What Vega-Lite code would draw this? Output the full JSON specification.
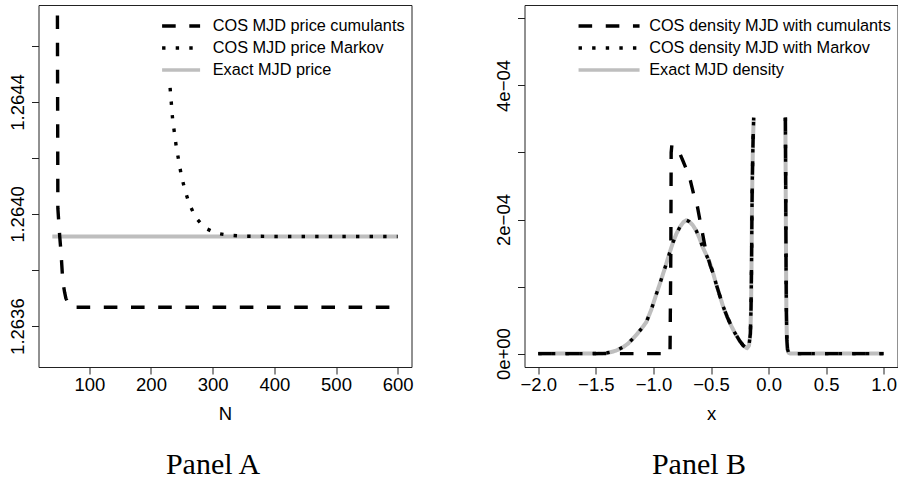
{
  "$schema": "https://vega.github.io/schema/vega-lite/v6.json",
  "background": "white",
  "autosize": {"type": "pad"},
  "padding": {"left": 6.5, "top": 4, "right": 0, "bottom": 0},
  "spacing": 113,
  "bounds": "flush",
  "resolve": {"scale": {"color": "independent", "strokeDash": "independent"}, "legend": {"color": "independent", "strokeDash": "independent"}},
  "config": {
    "view": {"stroke": "#222", "strokeWidth": 1},
    "axis": {"labelFont": "Liberation Sans", "labelFontSize": 18.5, "labelColor": "black", "titleFont": "Liberation Sans", "titleFontSize": 18.5, "titleFontWeight": "normal", "titleColor": "black", "tickColor": "#222", "tickSize": 7, "domain": false, "grid": false, "labelOverlap": false, "labelFlush": false},
    "axisX": {"labelPadding": 1, "labelBaseline": "top", "titleY": 52, "titleBaseline": "alphabetic"},
    "axisY": {"labelAngle": 270, "labelAlign": "center", "labelBaseline": "alphabetic", "labelPadding": 8.5},
    "legend": {"title": null, "orient": "none", "symbolType": "M-10,0H10", "symbolStrokeWidth": 3.5, "labelFont": "Liberation Sans", "labelFontSize": 16.3, "labelColor": "black", "padding": 0, "labelLimit": 400, "rowPadding": 5},
    "title": {"font": "Liberation Serif", "fontSize": 30, "fontWeight": "normal", "color": "black", "orient": "bottom", "anchor": "middle", "dx": -12, "offset": 27},
    "line": {"strokeCap": "butt", "strokeJoin": "round"}
  },
  "datasets": {
    "panelA": [
      {"N": 40, "price": 1.26392, "series": "Exact MJD price"},
      {"N": 600, "price": 1.26392, "series": "Exact MJD price"},
      {"N": 48, "price": 1.2650, "series": "COS MJD price cumulants"},
      {"N": 49, "price": 1.26402, "series": "COS MJD price cumulants"},
      {"N": 52, "price": 1.26392, "series": "COS MJD price cumulants"},
      {"N": 54, "price": 1.263867, "series": "COS MJD price cumulants"},
      {"N": 57, "price": 1.26376, "series": "COS MJD price cumulants"},
      {"N": 60, "price": 1.26372, "series": "COS MJD price cumulants"},
      {"N": 62, "price": 1.263699, "series": "COS MJD price cumulants"},
      {"N": 66, "price": 1.26368, "series": "COS MJD price cumulants"},
      {"N": 70, "price": 1.263668, "series": "COS MJD price cumulants"},
      {"N": 75, "price": 1.263667, "series": "COS MJD price cumulants"},
      {"N": 100, "price": 1.263667, "series": "COS MJD price cumulants"},
      {"N": 200, "price": 1.263667, "series": "COS MJD price cumulants"},
      {"N": 300, "price": 1.263667, "series": "COS MJD price cumulants"},
      {"N": 400, "price": 1.263667, "series": "COS MJD price cumulants"},
      {"N": 500, "price": 1.263667, "series": "COS MJD price cumulants"},
      {"N": 600, "price": 1.263667, "series": "COS MJD price cumulants"},
      {"N": 231, "price": 1.26445, "series": "COS MJD price Markov"},
      {"N": 235, "price": 1.26434, "series": "COS MJD price Markov"},
      {"N": 241, "price": 1.26424, "series": "COS MJD price Markov"},
      {"N": 249, "price": 1.26414, "series": "COS MJD price Markov"},
      {"N": 255, "price": 1.264085, "series": "COS MJD price Markov"},
      {"N": 262, "price": 1.264037, "series": "COS MJD price Markov"},
      {"N": 272, "price": 1.263989, "series": "COS MJD price Markov"},
      {"N": 287, "price": 1.263951, "series": "COS MJD price Markov"},
      {"N": 300, "price": 1.263937, "series": "COS MJD price Markov"},
      {"N": 310, "price": 1.26393, "series": "COS MJD price Markov"},
      {"N": 328, "price": 1.263924, "series": "COS MJD price Markov"},
      {"N": 350, "price": 1.263921, "series": "COS MJD price Markov"},
      {"N": 400, "price": 1.26392, "series": "COS MJD price Markov"},
      {"N": 500, "price": 1.26392, "series": "COS MJD price Markov"},
      {"N": 600, "price": 1.26392, "series": "COS MJD price Markov"}
    ],
    "panelB": [
      {"x": -2.0, "density": 0, "part": 1, "series": "Exact MJD density"},
      {"x": -1.8, "density": 0, "part": 1, "series": "Exact MJD density"},
      {"x": -1.6, "density": 0, "part": 1, "series": "Exact MJD density"},
      {"x": -1.5, "density": 0.0000002, "part": 1, "series": "Exact MJD density"},
      {"x": -1.45, "density": 0.0000005, "part": 1, "series": "Exact MJD density"},
      {"x": -1.40, "density": 0.0000012, "part": 1, "series": "Exact MJD density"},
      {"x": -1.35, "density": 0.000003, "part": 1, "series": "Exact MJD density"},
      {"x": -1.31, "density": 0.0000055, "part": 1, "series": "Exact MJD density"},
      {"x": -1.26, "density": 0.00001, "part": 1, "series": "Exact MJD density"},
      {"x": -1.22, "density": 0.000015, "part": 1, "series": "Exact MJD density"},
      {"x": -1.18, "density": 0.000022, "part": 1, "series": "Exact MJD density"},
      {"x": -1.143, "density": 0.000029, "part": 1, "series": "Exact MJD density"},
      {"x": -1.10, "density": 0.000038, "part": 1, "series": "Exact MJD density"},
      {"x": -1.062, "density": 0.000047, "part": 1, "series": "Exact MJD density"},
      {"x": -1.02, "density": 0.000065, "part": 1, "series": "Exact MJD density"},
      {"x": -0.975, "density": 0.0000885, "part": 1, "series": "Exact MJD density"},
      {"x": -0.935, "density": 0.000109, "part": 1, "series": "Exact MJD density"},
      {"x": -0.894, "density": 0.000131, "part": 1, "series": "Exact MJD density"},
      {"x": -0.86, "density": 0.00015, "part": 1, "series": "Exact MJD density"},
      {"x": -0.83, "density": 0.000166, "part": 1, "series": "Exact MJD density"},
      {"x": -0.80, "density": 0.000179, "part": 1, "series": "Exact MJD density"},
      {"x": -0.77, "density": 0.000189, "part": 1, "series": "Exact MJD density"},
      {"x": -0.74, "density": 0.000196, "part": 1, "series": "Exact MJD density"},
      {"x": -0.714, "density": 0.000199, "part": 1, "series": "Exact MJD density"},
      {"x": -0.69, "density": 0.000197, "part": 1, "series": "Exact MJD density"},
      {"x": -0.66, "density": 0.000192, "part": 1, "series": "Exact MJD density"},
      {"x": -0.627, "density": 0.000183, "part": 1, "series": "Exact MJD density"},
      {"x": -0.60, "density": 0.000172, "part": 1, "series": "Exact MJD density"},
      {"x": -0.57, "density": 0.000158, "part": 1, "series": "Exact MJD density"},
      {"x": -0.54, "density": 0.000147, "part": 1, "series": "Exact MJD density"},
      {"x": -0.512, "density": 0.000136, "part": 1, "series": "Exact MJD density"},
      {"x": -0.48, "density": 0.000119, "part": 1, "series": "Exact MJD density"},
      {"x": -0.454, "density": 0.000103, "part": 1, "series": "Exact MJD density"},
      {"x": -0.425, "density": 0.000087, "part": 1, "series": "Exact MJD density"},
      {"x": -0.396, "density": 0.000071, "part": 1, "series": "Exact MJD density"},
      {"x": -0.36, "density": 0.000055, "part": 1, "series": "Exact MJD density"},
      {"x": -0.323, "density": 0.000041, "part": 1, "series": "Exact MJD density"},
      {"x": -0.29, "density": 0.00003, "part": 1, "series": "Exact MJD density"},
      {"x": -0.251, "density": 0.000019, "part": 1, "series": "Exact MJD density"},
      {"x": -0.22, "density": 0.000012, "part": 1, "series": "Exact MJD density"},
      {"x": -0.188, "density": 0.000008, "part": 1, "series": "Exact MJD density"},
      {"x": -0.17, "density": 0.000012, "part": 1, "series": "Exact MJD density"},
      {"x": -0.158, "density": 0.00003, "part": 1, "series": "Exact MJD density"},
      {"x": -0.152, "density": 0.00007, "part": 1, "series": "Exact MJD density"},
      {"x": -0.148, "density": 0.00013, "part": 1, "series": "Exact MJD density"},
      {"x": -0.145, "density": 0.0002, "part": 1, "series": "Exact MJD density"},
      {"x": -0.141, "density": 0.00026, "part": 1, "series": "Exact MJD density"},
      {"x": -0.137, "density": 0.0003, "part": 1, "series": "Exact MJD density"},
      {"x": -0.133, "density": 0.00033, "part": 1, "series": "Exact MJD density"},
      {"x": -0.129, "density": 0.000352, "part": 1, "series": "Exact MJD density"},
      {"x": 0.146, "density": 0.000352, "part": 2, "series": "Exact MJD density"},
      {"x": 0.148, "density": 0.00028, "part": 2, "series": "Exact MJD density"},
      {"x": 0.15, "density": 0.0002, "part": 2, "series": "Exact MJD density"},
      {"x": 0.152, "density": 0.00013, "part": 2, "series": "Exact MJD density"},
      {"x": 0.155, "density": 0.00006, "part": 2, "series": "Exact MJD density"},
      {"x": 0.159, "density": 0.00002, "part": 2, "series": "Exact MJD density"},
      {"x": 0.165, "density": 0.000006, "part": 2, "series": "Exact MJD density"},
      {"x": 0.175, "density": 0.000001, "part": 2, "series": "Exact MJD density"},
      {"x": 0.19, "density": 0, "part": 2, "series": "Exact MJD density"},
      {"x": 0.4, "density": 0, "part": 2, "series": "Exact MJD density"},
      {"x": 0.7, "density": 0, "part": 2, "series": "Exact MJD density"},
      {"x": 1.0, "density": 0, "part": 2, "series": "Exact MJD density"},

      {"x": -2.0, "density": 0, "part": 1, "series": "COS density MJD with Markov"},
      {"x": -1.8, "density": 0, "part": 1, "series": "COS density MJD with Markov"},
      {"x": -1.6, "density": 0, "part": 1, "series": "COS density MJD with Markov"},
      {"x": -1.5, "density": 0.0000002, "part": 1, "series": "COS density MJD with Markov"},
      {"x": -1.45, "density": 0.0000005, "part": 1, "series": "COS density MJD with Markov"},
      {"x": -1.40, "density": 0.0000012, "part": 1, "series": "COS density MJD with Markov"},
      {"x": -1.35, "density": 0.000003, "part": 1, "series": "COS density MJD with Markov"},
      {"x": -1.31, "density": 0.0000055, "part": 1, "series": "COS density MJD with Markov"},
      {"x": -1.26, "density": 0.00001, "part": 1, "series": "COS density MJD with Markov"},
      {"x": -1.22, "density": 0.000015, "part": 1, "series": "COS density MJD with Markov"},
      {"x": -1.18, "density": 0.000022, "part": 1, "series": "COS density MJD with Markov"},
      {"x": -1.143, "density": 0.000029, "part": 1, "series": "COS density MJD with Markov"},
      {"x": -1.10, "density": 0.000038, "part": 1, "series": "COS density MJD with Markov"},
      {"x": -1.062, "density": 0.000047, "part": 1, "series": "COS density MJD with Markov"},
      {"x": -1.02, "density": 0.000065, "part": 1, "series": "COS density MJD with Markov"},
      {"x": -0.975, "density": 0.0000885, "part": 1, "series": "COS density MJD with Markov"},
      {"x": -0.935, "density": 0.000109, "part": 1, "series": "COS density MJD with Markov"},
      {"x": -0.894, "density": 0.000131, "part": 1, "series": "COS density MJD with Markov"},
      {"x": -0.86, "density": 0.00015, "part": 1, "series": "COS density MJD with Markov"},
      {"x": -0.83, "density": 0.000166, "part": 1, "series": "COS density MJD with Markov"},
      {"x": -0.80, "density": 0.000179, "part": 1, "series": "COS density MJD with Markov"},
      {"x": -0.77, "density": 0.000189, "part": 1, "series": "COS density MJD with Markov"},
      {"x": -0.74, "density": 0.000196, "part": 1, "series": "COS density MJD with Markov"},
      {"x": -0.714, "density": 0.000199, "part": 1, "series": "COS density MJD with Markov"},
      {"x": -0.69, "density": 0.000197, "part": 1, "series": "COS density MJD with Markov"},
      {"x": -0.66, "density": 0.000192, "part": 1, "series": "COS density MJD with Markov"},
      {"x": -0.627, "density": 0.000183, "part": 1, "series": "COS density MJD with Markov"},
      {"x": -0.60, "density": 0.000172, "part": 1, "series": "COS density MJD with Markov"},
      {"x": -0.57, "density": 0.000158, "part": 1, "series": "COS density MJD with Markov"},
      {"x": -0.54, "density": 0.000147, "part": 1, "series": "COS density MJD with Markov"},
      {"x": -0.512, "density": 0.000136, "part": 1, "series": "COS density MJD with Markov"},
      {"x": -0.48, "density": 0.000119, "part": 1, "series": "COS density MJD with Markov"},
      {"x": -0.454, "density": 0.000103, "part": 1, "series": "COS density MJD with Markov"},
      {"x": -0.425, "density": 0.000087, "part": 1, "series": "COS density MJD with Markov"},
      {"x": -0.396, "density": 0.000071, "part": 1, "series": "COS density MJD with Markov"},
      {"x": -0.36, "density": 0.000055, "part": 1, "series": "COS density MJD with Markov"},
      {"x": -0.323, "density": 0.000041, "part": 1, "series": "COS density MJD with Markov"},
      {"x": -0.29, "density": 0.00003, "part": 1, "series": "COS density MJD with Markov"},
      {"x": -0.251, "density": 0.000019, "part": 1, "series": "COS density MJD with Markov"},
      {"x": -0.22, "density": 0.000012, "part": 1, "series": "COS density MJD with Markov"},
      {"x": -0.188, "density": 0.000008, "part": 1, "series": "COS density MJD with Markov"},
      {"x": -0.17, "density": 0.000012, "part": 1, "series": "COS density MJD with Markov"},
      {"x": -0.158, "density": 0.00003, "part": 1, "series": "COS density MJD with Markov"},
      {"x": -0.152, "density": 0.00007, "part": 1, "series": "COS density MJD with Markov"},
      {"x": -0.148, "density": 0.00013, "part": 1, "series": "COS density MJD with Markov"},
      {"x": -0.145, "density": 0.0002, "part": 1, "series": "COS density MJD with Markov"},
      {"x": -0.141, "density": 0.00026, "part": 1, "series": "COS density MJD with Markov"},
      {"x": -0.137, "density": 0.0003, "part": 1, "series": "COS density MJD with Markov"},
      {"x": -0.133, "density": 0.00033, "part": 1, "series": "COS density MJD with Markov"},
      {"x": -0.129, "density": 0.000352, "part": 1, "series": "COS density MJD with Markov"},
      {"x": 0.146, "density": 0.000352, "part": 2, "series": "COS density MJD with Markov"},
      {"x": 0.148, "density": 0.00028, "part": 2, "series": "COS density MJD with Markov"},
      {"x": 0.15, "density": 0.0002, "part": 2, "series": "COS density MJD with Markov"},
      {"x": 0.152, "density": 0.00013, "part": 2, "series": "COS density MJD with Markov"},
      {"x": 0.155, "density": 0.00006, "part": 2, "series": "COS density MJD with Markov"},
      {"x": 0.159, "density": 0.00002, "part": 2, "series": "COS density MJD with Markov"},
      {"x": 0.165, "density": 0.000006, "part": 2, "series": "COS density MJD with Markov"},
      {"x": 0.175, "density": 0.000001, "part": 2, "series": "COS density MJD with Markov"},
      {"x": 0.19, "density": 0, "part": 2, "series": "COS density MJD with Markov"},
      {"x": 0.4, "density": 0, "part": 2, "series": "COS density MJD with Markov"},
      {"x": 0.7, "density": 0, "part": 2, "series": "COS density MJD with Markov"},
      {"x": 1.0, "density": 0, "part": 2, "series": "COS density MJD with Markov"},

      {"x": -2.0, "density": 0, "part": 1, "series": "COS density MJD with cumulants"},
      {"x": -1.5, "density": 0, "part": 1, "series": "COS density MJD with cumulants"},
      {"x": -1.2, "density": 0, "part": 1, "series": "COS density MJD with cumulants"},
      {"x": -0.856, "density": 0, "part": 1, "series": "COS density MJD with cumulants"},
      {"x": -0.849, "density": 0.00015, "part": 1, "series": "COS density MJD with cumulants"},
      {"x": -0.846, "density": 0.0003, "part": 1, "series": "COS density MJD with cumulants"},
      {"x": -0.84, "density": 0.000311, "part": 1, "series": "COS density MJD with cumulants"},
      {"x": -0.815, "density": 0.000309, "part": 1, "series": "COS density MJD with cumulants"},
      {"x": -0.79, "density": 0.000304, "part": 1, "series": "COS density MJD with cumulants"},
      {"x": -0.772, "density": 0.000299, "part": 1, "series": "COS density MJD with cumulants"},
      {"x": -0.745, "density": 0.000288, "part": 1, "series": "COS density MJD with cumulants"},
      {"x": -0.714, "density": 0.000275, "part": 1, "series": "COS density MJD with cumulants"},
      {"x": -0.679, "density": 0.000258, "part": 1, "series": "COS density MJD with cumulants"},
      {"x": -0.651, "density": 0.000238, "part": 1, "series": "COS density MJD with cumulants"},
      {"x": -0.62, "density": 0.000221, "part": 1, "series": "COS density MJD with cumulants"},
      {"x": -0.595, "density": 0.000198, "part": 1, "series": "COS density MJD with cumulants"},
      {"x": -0.57, "density": 0.000176, "part": 1, "series": "COS density MJD with cumulants"},
      {"x": -0.547, "density": 0.000155, "part": 1, "series": "COS density MJD with cumulants"},
      {"x": -0.527, "density": 0.000144, "part": 1, "series": "COS density MJD with cumulants"},
      {"x": -0.506, "density": 0.000131, "part": 1, "series": "COS density MJD with cumulants"},
      {"x": -0.48, "density": 0.000119, "part": 1, "series": "COS density MJD with cumulants"},
      {"x": -0.454, "density": 0.000103, "part": 1, "series": "COS density MJD with cumulants"},
      {"x": -0.425, "density": 0.000087, "part": 1, "series": "COS density MJD with cumulants"},
      {"x": -0.396, "density": 0.000071, "part": 1, "series": "COS density MJD with cumulants"},
      {"x": -0.36, "density": 0.000055, "part": 1, "series": "COS density MJD with cumulants"},
      {"x": -0.323, "density": 0.000041, "part": 1, "series": "COS density MJD with cumulants"},
      {"x": -0.29, "density": 0.00003, "part": 1, "series": "COS density MJD with cumulants"},
      {"x": -0.251, "density": 0.000019, "part": 1, "series": "COS density MJD with cumulants"},
      {"x": -0.22, "density": 0.000012, "part": 1, "series": "COS density MJD with cumulants"},
      {"x": -0.188, "density": 0.000008, "part": 1, "series": "COS density MJD with cumulants"},
      {"x": -0.17, "density": 0.000012, "part": 1, "series": "COS density MJD with cumulants"},
      {"x": -0.158, "density": 0.00003, "part": 1, "series": "COS density MJD with cumulants"},
      {"x": -0.152, "density": 0.00007, "part": 1, "series": "COS density MJD with cumulants"},
      {"x": -0.148, "density": 0.00013, "part": 1, "series": "COS density MJD with cumulants"},
      {"x": -0.145, "density": 0.0002, "part": 1, "series": "COS density MJD with cumulants"},
      {"x": -0.141, "density": 0.00026, "part": 1, "series": "COS density MJD with cumulants"},
      {"x": -0.137, "density": 0.0003, "part": 1, "series": "COS density MJD with cumulants"},
      {"x": -0.133, "density": 0.00033, "part": 1, "series": "COS density MJD with cumulants"},
      {"x": -0.129, "density": 0.000352, "part": 1, "series": "COS density MJD with cumulants"},
      {"x": 0.146, "density": 0.000352, "part": 2, "series": "COS density MJD with cumulants"},
      {"x": 0.148, "density": 0.00028, "part": 2, "series": "COS density MJD with cumulants"},
      {"x": 0.15, "density": 0.0002, "part": 2, "series": "COS density MJD with cumulants"},
      {"x": 0.152, "density": 0.00013, "part": 2, "series": "COS density MJD with cumulants"},
      {"x": 0.155, "density": 0.00006, "part": 2, "series": "COS density MJD with cumulants"},
      {"x": 0.159, "density": 0.00002, "part": 2, "series": "COS density MJD with cumulants"},
      {"x": 0.165, "density": 0.000006, "part": 2, "series": "COS density MJD with cumulants"},
      {"x": 0.175, "density": 0.000001, "part": 2, "series": "COS density MJD with cumulants"},
      {"x": 0.19, "density": 0, "part": 2, "series": "COS density MJD with cumulants"},
      {"x": 0.4, "density": 0, "part": 2, "series": "COS density MJD with cumulants"},
      {"x": 0.7, "density": 0, "part": 2, "series": "COS density MJD with cumulants"},
      {"x": 1.0, "density": 0, "part": 2, "series": "COS density MJD with cumulants"}
    ]
  },
  "hconcat": [
    {
      "width": 373,
      "height": 362,
      "title": {"text": "Panel A"},
      "data": {"name": "panelA"},
      "encoding": {
        "x": {"field": "N", "type": "quantitative", "scale": {"domain": [17.6, 622.4], "nice": false, "zero": false}, "axis": {"title": "N", "values": [100, 200, 300, 400, 500, 600]}},
        "y": {"field": "price", "type": "quantitative", "scale": {"domain": [1.263454, 1.264746], "nice": false, "zero": false}, "axis": {"title": null, "values": [1.2636, 1.2638, 1.264, 1.2642, 1.2644, 1.2646], "labelExpr": "round(datum.value*10000) % 4 == 0 ? format(datum.value, '.4f') : ''"}},
        "color": {"field": "series", "type": "nominal", "scale": {"domain": ["COS MJD price cumulants", "COS MJD price Markov", "Exact MJD price"], "range": ["black", "black", "#BEBEBE"]}, "legend": {"legendX": 134.45, "legendY": 12.75, "symbolType": "M-10,0H10", "symbolSize": 14.44, "labelOffset": 23.5}},
        "strokeDash": {"field": "series", "type": "nominal", "scale": {"domain": ["COS MJD price cumulants", "COS MJD price Markov", "Exact MJD price"], "range": [[13.6, 13.6], [3.4, 10.2], [1, 0]]}, "legend": {"legendX": 134.45, "legendY": 12.75, "symbolType": "M-10,0H10", "symbolSize": 14.44, "labelOffset": 23.5}}
      },
      "layer": [
        {"transform": [{"filter": "datum.series == 'Exact MJD price'"}], "mark": {"type": "line", "strokeWidth": 4, "clip": true}},
        {"transform": [{"filter": "datum.series == 'COS MJD price cumulants'"}], "mark": {"type": "line", "strokeWidth": 3.4, "clip": true}},
        {"transform": [{"filter": "datum.series == 'COS MJD price Markov'"}], "mark": {"type": "line", "strokeWidth": 3.4, "clip": true}}
      ]
    },
    {
      "width": 373,
      "height": 362,
      "title": {"text": "Panel B"},
      "data": {"name": "panelB"},
      "encoding": {
        "x": {"field": "x", "type": "quantitative", "scale": {"domain": [-2.12, 1.12], "nice": false, "zero": false}, "axis": {"title": "x", "values": [-2, -1.5, -1, -0.5, 0, 0.5, 1], "format": ".1f"}},
        "y": {"field": "density", "type": "quantitative", "scale": {"domain": [-0.00002, 0.00052], "nice": false, "zero": false}, "axis": {"title": null, "values": [0, 0.0001, 0.0002, 0.0003, 0.0004, 0.0005], "labelExpr": "round(datum.value*10000) % 2 == 0 ? (round(datum.value*10000) == 0 ? '0e+00' : round(datum.value*10000) + 'e−04') : ''"}},
        "detail": {"field": "part", "type": "nominal"},
        "color": {"field": "series", "type": "nominal", "scale": {"domain": ["COS density MJD with cumulants", "COS density MJD with Markov", "Exact MJD density"], "range": ["black", "black", "#BEBEBE"]}, "legend": {"legendX": 76.4, "legendY": 12.75, "symbolType": "M-10,0H10", "symbolSize": 37.21, "labelOffset": 32}},
        "strokeDash": {"field": "series", "type": "nominal", "scale": {"domain": ["COS density MJD with cumulants", "COS density MJD with Markov", "Exact MJD density"], "range": [[13.6, 13.6], [3.4, 10.2], [1, 0]]}, "legend": {"legendX": 76.4, "legendY": 12.75, "symbolType": "M-10,0H10", "symbolSize": 37.21, "labelOffset": 32}}
      },
      "layer": [
        {"transform": [{"filter": "datum.series == 'Exact MJD density'"}], "mark": {"type": "line", "strokeWidth": 4, "clip": true}},
        {"transform": [{"filter": "datum.series == 'COS density MJD with cumulants'"}], "mark": {"type": "line", "strokeWidth": 3.4, "clip": true}},
        {"transform": [{"filter": "datum.series == 'COS density MJD with Markov'"}], "mark": {"type": "line", "strokeWidth": 3.4, "clip": true}}
      ]
    }
  ]
}
